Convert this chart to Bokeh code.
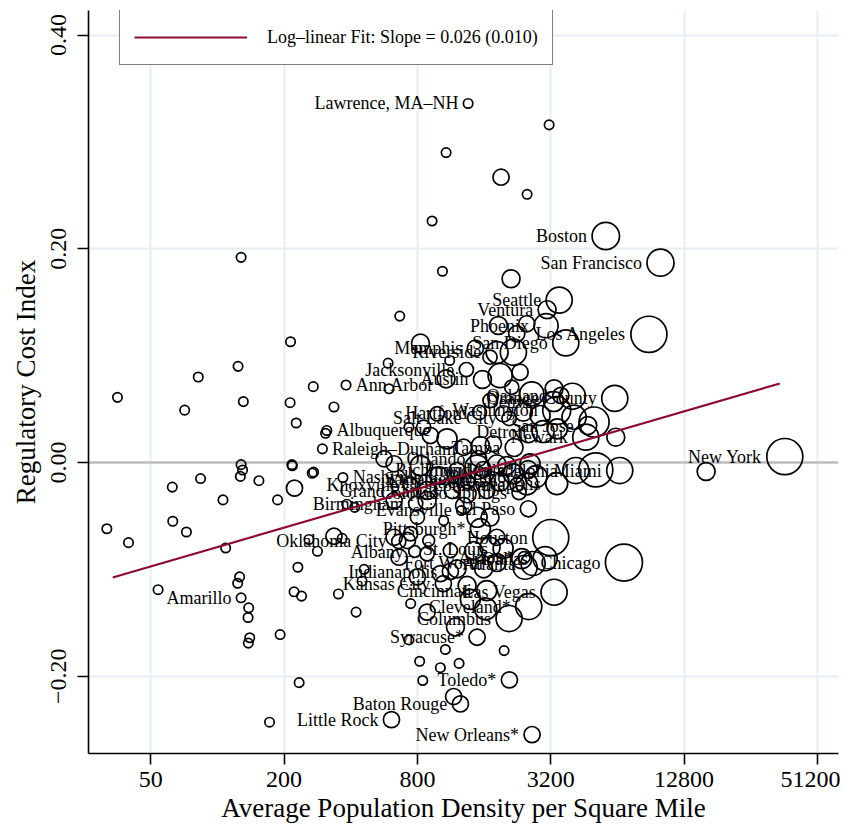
import math
from bokeh.plotting import figure
from bokeh.models import (ColumnDataSource, FixedTicker, CustomJSTickFormatter,
                          Span, Legend, LegendItem)
from bokeh.core.properties import value
from bokeh.embed import file_html
from bokeh.resources import INLINE

FONT = "Liberation Serif"

# ---------------- data ----------------
x_ticks = [50, 200, 800, 3200, 12800, 51200]
y_ticks = [-0.20, 0.0, 0.20, 0.40]

# unlabeled metro areas: density (per sq mi), regulatory cost index, population weight
density = [3146, 1078, 1909, 2502, 932, 1038, 2118, 128, 214, 666, 124, 82, 35.4, 71.2,
           131, 213, 271, 336, 227, 590, 596, 128, 130, 127, 217, 218, 268, 272, 84, 62.6,
           154, 223, 106, 187, 384, 417, 31.7, 39.7, 62.9, 72.5, 109, 336, 259, 283, 366,
           231, 54, 126, 123.5, 138.5, 137.6, 140, 138, 192, 222, 240, 352, 423, 234, 172,
           460, 450, 746, 885, 1188, 733, 1070, 1970, 819, 1016, 1234, 846, 1628, 1388,
           1341, 800, 1016, 1208, 1592, 2451, 2367, 721, 885, 661, 1127, 1437, 1702, 628,
           746, 900, 1826, 628, 800, 885, 1294, 1488, 1702, 1051, 885, 1341, 1645, 1890,
           2493, 2170, 1826, 1488, 1208, 998, 826, 628, 566, 5110, 2581, 2026, 1294, 1540,
           1763, 2535, 3430, 2864, 2408, 1957, 1702, 2133, 2627, 3312, 4009, 5021, 6291,
           4077, 1089, 916, 854, 982, 733, 826, 1119, 1078, 1890, 2326, 2170, 1702, 1856,
           2247, 2493, 16090, 1166, 308]
cost_index = [0.316, 0.290, 0.267, 0.251, 0.226, 0.179, 0.172, 0.192, 0.113, 0.137, 0.090,
              0.080, 0.061, 0.049, 0.057, 0.056, 0.071, 0.052, 0.037, 0.093, 0.069, -0.002,
              -0.007, -0.013, -0.002, -0.003, -0.010, -0.009, -0.015, -0.023, -0.017, -0.024,
              -0.035, -0.035, -0.039, -0.042, -0.062, -0.075, -0.055, -0.065, -0.080, -0.069,
              -0.072, -0.083, -0.071, -0.098, -0.119, -0.107, -0.113, -0.136, -0.145, -0.164,
              -0.169, -0.161, -0.121, -0.125, -0.123, -0.140, -0.206, -0.243, -0.100, -0.111,
              -0.132, -0.140, -0.154, -0.166, -0.175, -0.176, -0.186, -0.192, -0.188, -0.204,
              -0.137, -0.128, -0.115, -0.107, -0.104, -0.0995, -0.0995, -0.098, -0.090,
              -0.073, -0.0855, -0.0886, -0.0824, -0.0824, -0.0793, -0.070, -0.0667, -0.073,
              -0.070, -0.0356, -0.0512, -0.0356, -0.0402, -0.0512, -0.0512, -0.0543, -0.0262,
              -0.0293, -0.0262, -0.0184, -0.020, -0.0106, -0.0012, -0.0044, -0.0075, -0.0122,
              -0.0028, -0.0012, 0.0035, -0.0068, -0.0012, -0.0028, 0.0143, 0.0159, 0.0175,
              0.0269, 0.0315, 0.044, 0.0471, 0.0456, 0.058, 0.0705, 0.0643, 0.069, 0.062,
              0.0379, 0.0237, 0.0424, 0.0222, 0.0253, 0.033, 0.0456, 0.033, 0.1117, 0.0955,
              0.0783, 0.0814, 0.0845, 0.1032, 0.0986, 0.1282, 0.1205, 0.1298, -0.0084,
              -0.219, 0.0274]
weight = [0.3, 0.3, 2.6, 0.3, 0.3, 0.3, 3.2, 0.3, 0.3, 0.3, 0.3, 0.3, 0.3, 0.3, 0.3, 0.3,
          0.3, 0.3, 0.3, 0.3, 0.3, 0.3, 0.3, 0.3, 0.3, 0.3, 0.3, 0.3, 0.3, 0.3, 0.3, 2.6,
          0.3, 0.3, 0.3, 0.3, 0.3, 0.3, 0.3, 0.3, 0.3, 2.6, 0.3, 0.3, 0.3, 0.3, 0.3, 0.3,
          0.3, 0.3, 0.3, 0.3, 0.3, 0.3, 0.3, 0.3, 0.3, 0.3, 0.3, 0.3, 0.3, 0.3, 0.3, 2.6,
          3.2, 0.3, 0.3, 0.3, 0.3, 0.3, 0.3, 0.3, 4.8, 4.0, 3.2, 2.6, 2.6, 3.2, 3.2, 5.8,
          4.0, 2.6, 2.0, 2.6, 2.0, 3.2, 4.0, 2.6, 2.0, 1.4, 2.6, 2.6, 2.0, 3.2, 2.6, 4.0,
          3.2, 0.3, 3.2, 3.2, 2.6, 3.2, 4.8, 4.0, 3.2, 5.8, 2.6, 3.2, 4.0, 2.6, 2.6, 11.6,
          4.0, 3.2, 2.6, 3.2, 2.6, 3.2, 4.0, 4.0, 3.2, 2.6, 2.0, 2.0, 5.8, 3.2, 6.8, 9.0,
          3.2, 5.8, 4.0, 2.6, 2.0, 2.0, 0.3, 3.2, 0.3, 3.2, 5.8, 2.6, 6.8, 2.0, 3.2, 2.6,
          2.6, 3.2, 2.6, 0.3]

# labeled metro areas
city_names = ["Lawrence, MA\u2013NH", "Boston", "San Francisco", "Seattle", "Ventura",
              "Phoenix", "Los Angeles", "San Diego", "Memphis", "Riverside", "Jacksonville",
              "Ann Arbor", "Austin", "Oakland", "Orange County", "Denver", "Hartford",
              "Washington", "Salt Lake City", "Albuquerque", "San Jose", "Detroit", "Newark",
              "Raleigh\u2013Durham", "Tampa", "Orlando", "Nashville", "Philadelphia", "Miami",
              "Knoxville", "Colorado Springs", "Birmingham", "Evansville", "El Paso",
              "Pittsburgh*", "Houston", "Oklahoma City", "Albany", "St. Louis", "Akron*",
              "Fort Worth", "Atlanta", "Dallas", "Chicago", "Indianapolis", "Kansas City",
              "Cincinnati", "Las Vegas", "Cleveland*", "Columbus", "Syracuse*", "Toledo*",
              "Baton Rouge", "Little Rock", "New Orleans*", "Amarillo", "New York",
              "Sacramento", "Baltimore", "Charlotte", "Louisville", "Minneapolis",
              "Grand Rapids", "Richmond", "Providence*"]
city_density = [1355, 5670, 10010, 3494, 3080, 3048, 8877, 3741, 1462, 1832, 1331, 381, 1573,
                3552, 6224, 3302, 1524, 3405, 2075, 312, 4701, 2955, 4605, 298, 2186, 1509,
                369, 4150, 6554, 746, 2302, 786, 1264, 2535, 1540, 3200, 659, 778, 1950,
                2426, 1832, 2663, 3017, 6848, 1127, 1048, 1645, 3312, 2546, 2075, 1488,
                2082, 1251, 611, 2635, 128, 36450, 1573, 2747, 1346, 2254, 3405, 1151,
                1589, 2528]
city_cost = [0.336, 0.212, 0.187, 0.152, 0.143, 0.128, 0.120, 0.112, 0.107, 0.103, 0.087,
             0.0725, 0.0777, 0.0627, 0.060, 0.0571, 0.0468, 0.0487, 0.0412, 0.030, 0.0346,
             0.029, 0.0237, 0.0128, 0.014, 0.0037, -0.014, -0.0075, -0.0075, -0.0206,
             -0.0281, -0.0384, -0.0449, -0.0433, -0.0618, -0.0702, -0.0739, -0.0833,
             -0.0805, -0.0889, -0.0936, -0.0945, -0.0899, -0.0936, -0.102, -0.1133,
             -0.1198, -0.1214, -0.1348, -0.146, -0.1635, -0.2034, -0.2259, -0.2406,
             -0.2546, -0.1266, 0.0056, -0.015, -0.0131, -0.0178, -0.0206, -0.0197, -0.0262,
             -0.0066, -0.0066]
city_weight = [0.3, 7.5, 7.3, 6.8, 3.2, 5.8, 13.0, 6.8, 2.6, 4.8, 2.0, 0.3, 3.2, 2.6, 6.8,
               4.0, 2.0, 7.8, 2.0, 0.3, 3.2, 4.8, 6.8, 0.3, 3.2, 2.6, 0.3, 6.8, 6.8, 2.0,
               2.0, 2.0, 0.3, 2.6, 4.0, 13.0, 2.0, 1.4, 4.0, 1.4, 3.2, 5.8, 5.8, 13.7, 2.6,
               2.6, 4.0, 6.8, 6.8, 6.8, 2.6, 2.6, 2.6, 2.6, 2.6, 0.3, 13.0, 2.6, 4.8, 2.0,
               2.0, 4.8, 2.6, 2.6, 3.2]
city_side = ["L"] * len(city_names)
for nm in ("Ann Arbor", "Albuquerque", "Raleigh\u2013Durham", "Nashville"):
    city_side[city_names.index(nm)] = "R"

fit_density = [33.7, 34600]
fit_cost = [-0.1076, 0.0739]
fit_label = "Log\u2013linear Fit: Slope = 0.026 (0.010)"


def radius(w):
    return max(4.7, 5.0 * math.sqrt(w))


# ---------------- figure ----------------
p = figure(frame_width=750, frame_height=743, x_axis_type="log",
           x_range=(26.2, 63700), y_range=(-0.2723, 0.4230),
           output_backend="svg", toolbar_location=None,
           min_border_left=88, min_border_right=2, min_border_top=10,
           min_border_bottom=70)
p.outline_line_color = None
p.background_fill_color = "white"
p.border_fill_color = "white"

p.xaxis.ticker = FixedTicker(ticks=x_ticks, minor_ticks=[])
p.yaxis.ticker = FixedTicker(ticks=y_ticks, minor_ticks=[])
p.xgrid.ticker = FixedTicker(ticks=x_ticks, minor_ticks=[])
p.ygrid.ticker = FixedTicker(ticks=y_ticks, minor_ticks=[])
p.xaxis.formatter = CustomJSTickFormatter(code="return Math.round(tick).toString();")
p.yaxis.formatter = CustomJSTickFormatter(
    code="return (tick < -1e-9 ? '\u2212' : '') + Math.abs(tick).toFixed(2);")

for g in (p.xgrid[0], p.ygrid[0]):
    g.grid_line_color = "#e5eef1"
    g.grid_line_width = 2

for ax in (p.xaxis[0], p.yaxis[0]):
    ax.axis_line_width = 1.6
    ax.axis_line_color = "black"
    ax.major_tick_line_width = 1.6
    ax.major_tick_line_color = "black"
    ax.major_tick_out = 11
    ax.major_tick_in = 0
    ax.minor_tick_out = 0
    ax.minor_tick_in = 0
    ax.major_label_text_font = FONT
    ax.major_label_text_font_size = "24px"
    ax.major_label_text_color = "black"
    ax.axis_label_text_font = FONT
    ax.axis_label_text_font_size = "27px"
    ax.axis_label_text_font_style = "normal"
    ax.axis_label_text_color = "black"

p.xaxis.axis_label = "Average Population Density per Square Mile"
p.yaxis.axis_label = "Regulatory Cost Index"
p.yaxis.major_label_orientation = "vertical"
p.xaxis.major_label_standoff = 7
p.xaxis.axis_label_standoff = 3
p.yaxis.major_label_standoff = 11
p.yaxis.axis_label_standoff = 8

zero = Span(location=0, dimension="width", line_color="#bcbcbc", line_width=2.5,
            level="underlay")
p.add_layout(zero)

pts = ColumnDataSource(dict(x=density + city_density, y=cost_index + city_cost,
                            s=[2 * radius(w) for w in weight + city_weight]))
p.scatter("x", "y", size="s", source=pts, marker="circle", fill_color=None,
          line_color="black", line_width=1.7)

for side, align, sign in (("L", "right", -1), ("R", "left", 1)):
    idx = [i for i, s in enumerate(city_side) if s == side]
    src = ColumnDataSource(dict(
        x=[city_density[i] for i in idx],
        y=[city_cost[i] for i in idx],
        t=[city_names[i] for i in idx],
        off=[sign * (radius(city_weight[i]) + 5) for i in idx]))
    p.text("x", "y", text="t", x_offset="off", source=src, text_align=align,
           text_baseline="middle", text_font=value(FONT), text_font_size="18px",
           text_color="black")

r_fit = p.line(fit_density, fit_cost, line_color="#8c0b30", line_width=2.2)

legend = Legend(items=[LegendItem(label=fit_label, renderers=[r_fit])],
                location=(31, 688), orientation="vertical",
                border_line_color="black", border_line_width=1.5,
                background_fill_color="white", background_fill_alpha=1.0,
                padding=14, spacing=0, margin=0, glyph_width=113, glyph_height=26,
                label_height=26, label_standoff=20, label_text_font=FONT,
                label_text_font_size="18px", label_text_color="black")
p.add_layout(legend)

open("out.html", "w").write(file_html(p, INLINE))
